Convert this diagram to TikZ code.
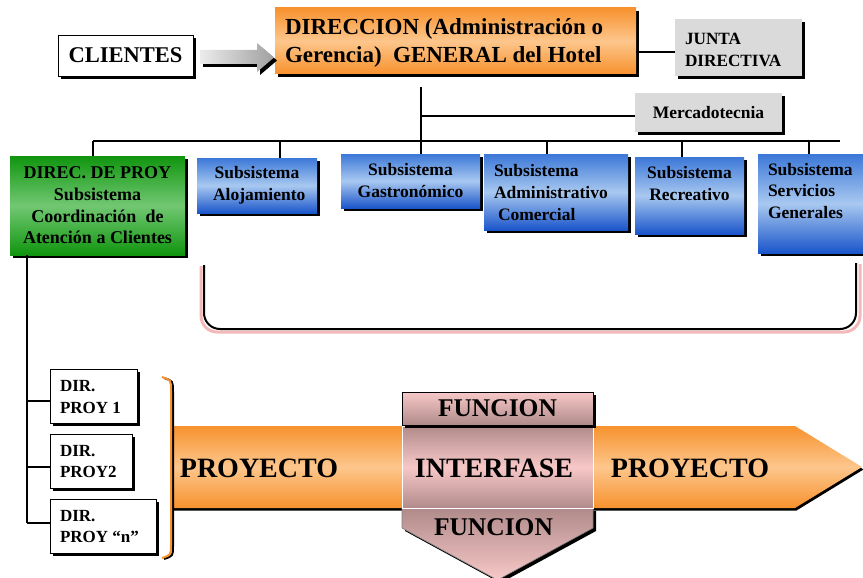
\documentclass[tikz,border=0pt]{standalone}
\usepackage{fontspec}
\setmainfont{Liberation Serif}
\usetikzlibrary{shadows,calc}
\definecolor{orD}{HTML}{F7922E}
\definecolor{orL}{HTML}{FDC68C}
\definecolor{grD}{HTML}{10950F}
\definecolor{grL}{HTML}{72C872}
\definecolor{blT}{HTML}{3C78D8}
\definecolor{blM}{HTML}{A8C8F0}
\definecolor{blB}{HTML}{1A55CA}
\definecolor{gyB}{HTML}{DADADA}
\definecolor{pkL}{HTML}{F8C8C8}
\definecolor{pkD}{HTML}{B08A8A}
\definecolor{pkLine}{HTML}{F4B8B8}
\begin{document}
\begin{tikzpicture}[x=1pt,y=-1pt,
  shad/.style={drop shadow={shadow xshift=3pt,shadow yshift=-3pt,opacity=1,fill=black}},
  conn/.style={line width=2.3pt,black},
  base/.style={inner sep=0pt,outer sep=0pt,anchor=north west,shad},
  whitebox/.style={base,draw=black,line width=0.8pt,fill=white},
  graybox/.style={base,fill=gyB},
  orbox/.style={base,top color=orD,bottom color=orD,middle color=orL},
  grbox/.style={base,top color=grD,bottom color=grD,middle color=grL,align=center,
     font=\bfseries\fontsize{18}{21.7}\selectfont},
  blbox/.style={base,top color=blT,bottom color=blB,middle color=blM,align=center,
     font=\bfseries\fontsize{17.5}{22}\selectfont},
  txt/.style={inner sep=0pt,outer sep=0pt,align=left},
]
\useasboundingbox (0,0) rectangle (863,578);

% ---- top row
\node[whitebox,minimum width=135pt,minimum height=41pt,
  font=\bfseries\fontsize{22.5}{27}\selectfont] (cli) at (58,35) {CLIENTES};
\node[orbox,minimum width=361pt,minimum height=66pt] (dir) at (275,8) {};
\node[txt,anchor=west,font=\bfseries\fontsize{23}{28}\selectfont] (dirt) at (285,43)
  {DIRECCION (Administración o\\Gerencia)\ \ GENERAL del Hotel};
\node[graybox,minimum width=127pt,minimum height=57pt] (junta) at (675,19) {};
\node[txt,anchor=west,font=\bfseries\fontsize{17.2}{22}\selectfont] (juntat) at (685,50)
  {JUNTA\\DIRECTIVA};
\node[graybox,minimum width=147pt,minimum height=39pt,
  font=\bfseries\fontsize{17.5}{21}\selectfont] (merc) at (635,93) {Mercadotecnia};

% gray arrow clientes -> direccion
\coordinate (gtail) at ($(cli.east)+(7,0)$);
\coordinate (gtip) at ($(dir.west)+(-1,16.5)$);
\path[shad,left color=gray!15,right color=gray!75]
  (gtail |- 0,50) -- (257,50) -- (257,43) -- (gtip) -- (257,72) -- (257,64)
  -- (gtail |- 0,64) -- cycle;

% ---- subsystem boxes
\node[grbox,minimum width=175pt,minimum height=99pt] (green) at (10,156)
  {DIREC. DE PROY\\Subsistema\\Coordinación\ \ de\\Atención a Clientes};
\node[blbox,minimum width=120pt,minimum height=55pt] (aloj) at (197,158)
  {Subsistema\\\ Alojamiento};
\node[blbox,minimum width=139pt,minimum height=54pt] (gastro) at (341,154)
  {Subsistema\\Gastronómico};
\node[blbox,minimum width=144pt,minimum height=76pt] (admin) at (484,154) {};
\node[txt,anchor=west,font=\bfseries\fontsize{17.5}{22}\selectfont] (admint) at (494,193)
  {Subsistema\\Administrativo\\\hspace*{4pt}Comercial};
\node[blbox,minimum width=109pt,minimum height=77pt] (recre) at (635,157) {};
\node[txt,anchor=north,align=center,font=\bfseries\fontsize{17.5}{22}\selectfont] (recret)
  at (689.5,166) {Subsistema\\Recreativo};
\node[blbox,minimum width=108pt,minimum height=99pt] (serv) at (758,154) {};
\node[txt,anchor=north west,font=\bfseries\fontsize{17.5}{21.5}\selectfont] (servt)
  at (768,163) {Subsistema\\Servicios\\Generales};

% ---- connectors
\coordinate (trunktop) at (421,87);
\coordinate (busL) at (93,141);
\coordinate (busR) at (840,141);
\draw[conn] (dir.east |- 0,52) -- (junta.west |- 0,52);
\draw[conn] (trunktop) -- (trunktop |- gastro.north);
\draw[conn] (421,116) -- (merc.west |- 0,116);
\draw[conn] (busL) -- (busR);
\draw[conn] (busL) -- (busL |- green.north);
\draw[conn] (280,141) -- (aloj.north -| 280,0);
\draw[conn] (547,141) -- (admin.north -| 547,0);
\draw[conn] (682,141) -- (recre.north -| 682,0);
\draw[conn] (809,141) -- (serv.north -| 809,0);

% bottom bracket under subsystems
\draw[line width=3pt,pkLine,rounded corners=16pt] (201,266) -- (201,332) -- (860,332) -- (860,264);
\draw[line width=2pt,black,rounded corners=16pt] (204,265) -- (204,329) -- (856,329) -- (856,263);

% ---- project directors
\node[whitebox,minimum width=87pt,minimum height=54pt] (dir1) at (50,369) {};
\node[whitebox,minimum width=82pt,minimum height=54pt] (dir2) at (50,434) {};
\node[whitebox,minimum width=106pt,minimum height=54pt] (dir3) at (50,499) {};
\node[txt,anchor=west,font=\bfseries\fontsize{17}{22}\selectfont] (dir1t) at (60,397) {DIR.\\PROY 1};
\node[txt,anchor=west,font=\bfseries\fontsize{17}{21}\selectfont] (dir2t) at (60,462) {DIR.\\PROY2};
\node[txt,anchor=west,font=\bfseries\fontsize{17}{21}\selectfont] (dir3t) at (60,527) {DIR.\\PROY “n”};
\coordinate (vbot) at (27,523);
\draw[conn] (green.south -| vbot) -- (vbot);
\draw[conn] (27,401) -- (dir1.west |- 0,401);
\draw[conn] (27,467) -- (dir2.west |- 0,467);
\draw[conn] (vbot) -- (dir3.west |- vbot);

% ---- big project arrow
\path[drop shadow={shadow xshift=1.5pt,shadow yshift=-2.5pt,opacity=1,fill=black},
  top color=orD,bottom color=orD,middle color=orL]
  (172,426) -- (795,426) -- (862,467) -- (795,508) -- (172,508) -- cycle;
% orange brace
\draw[line width=2pt,black] (164,378) .. controls (173,381) .. (173,392) -- (173,546) .. controls (173,556) .. (164,559);
\draw[line width=2pt,orD] (162,377) .. controls (171,380) .. (171,391) -- (171,545) .. controls (171,555) .. (162,558);

\node[txt,font=\bfseries\fontsize{28}{30}\selectfont] (proy1) at (259,468) {PROYECTO};
\node[txt,font=\bfseries\fontsize{28}{30}\selectfont] (proy2) at (690,468) {PROYECTO};

% function down arrow
\path[shad,draw=gray,line width=0.6pt,top color=pkD,bottom color=pkL]
  (402,508) -- (593,508) -- (593,528) -- (497.5,580) -- (402,528) -- cycle;
\node[txt,font=\bfseries\fontsize{25.5}{28}\selectfont] (func2) at (493.5,527) {FUNCION};
% interfase
\node[inner sep=0pt,outer sep=0pt,anchor=north west,draw=white,line width=0.8pt,
  top color=pkD,bottom color=pkD,middle color=pkL,minimum width=191pt,minimum height=82pt]
  (inter) at (402,426) {};
\node[txt,font=\bfseries\fontsize{28}{30}\selectfont] (intert) at (494,468) {INTERFASE};
% function top box
\node[base,draw=black,line width=0.6pt,top color=pkL,bottom color=pkD,
  minimum width=191pt,minimum height=33pt,font=\bfseries\fontsize{25.5}{28}\selectfont]
  (func1) at (402,392) {FUNCION};
\end{tikzpicture}
\end{document}
